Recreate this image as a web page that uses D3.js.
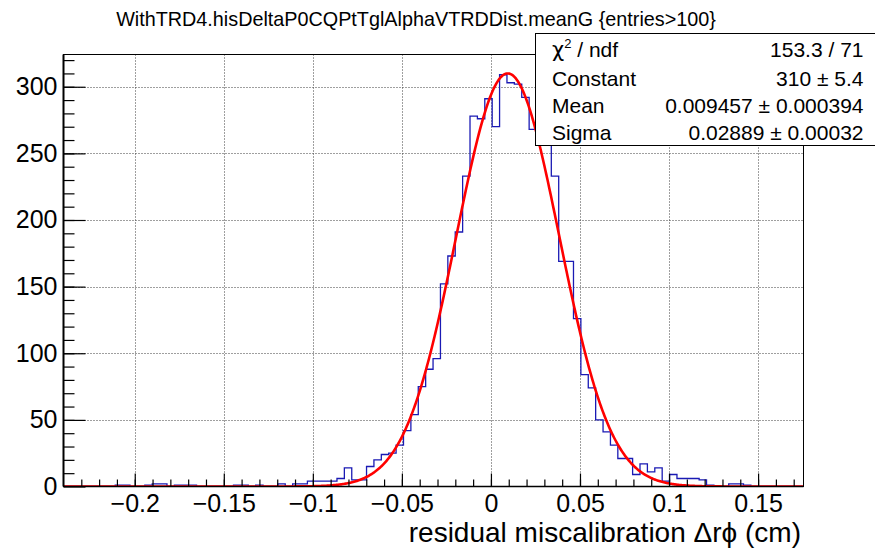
<!DOCTYPE html>
<html><head><meta charset="utf-8">
<script src="https://cdn.jsdelivr.net/npm/d3@7"></script>
<style>
html,body{margin:0;padding:0;background:#fff;}
svg{display:block;font-family:"Liberation Sans",Arial,Helvetica,sans-serif;}
</style>
</head><body><svg id="c" width="875" height="553"></svg>
<script>
// ---------------- data ----------------
const titleText = "WithTRD4.hisDeltaP0CQPtTglAlphaVTRDDist.meanG {entries>100}";
const xAxisTitle = "residual miscalibration \u0394r\u03d5 (cm)";
const binLow = -0.24;
const binWidth = 0.00415;
const binCounts = [
  0,0,0,0,0,0,0,1,1,0,
  0,1,2,2,0,1,1,1,0,0,
  0,0,0,1,1,0,1,0,0,2,
  0,2,2,4,4,4,4,6,14,5,
  5,15,20,24,25,31,42,54,75,88,
  96,152,173,191,233,278,276,291,270,309,
  303,302,292,268,264,259,233,169,169,126,
  84,74,50,41,31,21,21,9,17,11,
  14,4,9,6,6,6,5,1,0,0,
  2,2,1,0,0,0,0,0,0,0
];
const xMajorTicks = [-0.2,-0.15,-0.1,-0.05,0,0.05,0.1,0.15];
const xTickLabels = ["\u22120.2","\u22120.15","\u22120.1","\u22120.05","0","0.05","0.1","0.15"];
const yMajorTicks = [0,50,100,150,200,250,300];
const yTickLabels = ["0","50","100","150","200","250","300"];
const fitConstant = 310;
const fitMean = 0.009457;
const fitSigma = 0.02889;
const statsLabels = ["\u03c7", "Constant", "Mean", "Sigma"];
const statsValues = ["153.3 / 71", "310 \u00b1 5.4", "0.009457 \u00b1 0.000394", "0.02889 \u00b1 0.00032"];

// ---------------- layout ----------------
const svg = d3.select("#c");
const L = 63.5, R = 803.5, T = 54.5, B = 486.5;
const x = d3.scaleLinear().domain([-0.24, 0.1755]).range([L, R]);
const y = d3.scaleLinear().domain([0, 324.2]).range([B, T]);

svg.append("rect").attr("width",875).attr("height",553).attr("fill","#fff");

svg.append("defs").append("clipPath").attr("id","fr")
  .append("rect").attr("x",L).attr("y",T).attr("width",R-L).attr("height",B-T);

// grid
const grid = svg.append("g").attr("stroke","#000").attr("stroke-width",1)
  .attr("stroke-dasharray","1,2").attr("opacity",0.75);
xMajorTicks.forEach(v => {
  const px = Math.round(x(v)) + 0.5;
  grid.append("line").attr("x1",px).attr("x2",px).attr("y1",T).attr("y2",B);
});
yMajorTicks.filter(v => v > 0).forEach(v => {
  const py = Math.round(y(v)) + 0.5;
  grid.append("line").attr("x1",L).attr("x2",R).attr("y1",py).attr("y2",py);
});

// histogram
const pts = binCounts.map((c,i) => [binLow + i*binWidth, c]);
pts.push([binLow + binCounts.length*binWidth, binCounts[binCounts.length-1]]);
svg.append("path").attr("clip-path","url(#fr)")
  .attr("d", d3.line().x(d => x(d[0])).y(d => y(d[1])).curve(d3.curveStepAfter)(pts))
  .attr("fill","none").attr("stroke","#1a1ab4").attr("stroke-width",1.3);

// fit curve
const xs = d3.range(0, 801).map(i => -0.24 + i*(0.4155/800));
const gaus = v => fitConstant * Math.exp(-0.5 * Math.pow((v - fitMean)/fitSigma, 2));
svg.append("path").attr("clip-path","url(#fr)")
  .attr("d", d3.line().x(v => x(v)).y(v => y(gaus(v)))(xs))
  .attr("fill","none").attr("stroke","#ff0000").attr("stroke-width",2.6);

// axes
const fs = 25;
const xAx = svg.append("g").attr("transform",`translate(0,${B})`)
  .call(d3.axisBottom(x).tickValues(xMajorTicks).tickSize(-13).tickPadding(8)
        .tickFormat((d,i) => xTickLabels[i]));
const xMin = svg.append("g").attr("transform",`translate(0,${B})`)
  .call(d3.axisBottom(x).tickValues(d3.range(-23,18).map(k => k/100)).tickSize(-7).tickFormat(""));
const yAx = svg.append("g").attr("transform",`translate(${L},0)`)
  .call(d3.axisLeft(y).tickValues(yMajorTicks).tickSize(-22).tickPadding(6)
        .tickFormat((d,i) => yTickLabels[i]));
const yMin = svg.append("g").attr("transform",`translate(${L},0)`)
  .call(d3.axisLeft(y).tickValues(d3.range(1,33).map(k => k*10)).tickSize(-11).tickFormat(""));
[xAx,xMin,yAx,yMin].forEach(g => {
  g.select(".domain").remove();
  g.selectAll("line").attr("stroke","#000").attr("stroke-width",1.2);
  g.selectAll("text").attr("font-size",fs).attr("fill","#000")
    .attr("font-family",'"Liberation Sans",Arial,sans-serif');
});

// frame
svg.append("rect").attr("x",L).attr("y",T).attr("width",R-L).attr("height",B-T)
  .attr("fill","none").attr("stroke","#000").attr("stroke-width",1);
svg.append("line").attr("x1",L).attr("x2",L).attr("y1",T).attr("y2",B)
  .attr("stroke","#000").attr("stroke-width",2);
svg.append("line").attr("x1",L).attr("x2",R).attr("y1",B).attr("y2",B)
  .attr("stroke","#000").attr("stroke-width",1.5);

// axis title
svg.append("text").attr("x",801).attr("y",542).attr("text-anchor","end")
  .attr("font-size",28).attr("fill","#000").text(xAxisTitle);

// title
svg.append("text").attr("x",416).attr("y",26).attr("text-anchor","middle")
  .attr("font-size",19.8).attr("fill","#000").text(titleText);

// stats box
const sb = svg.append("g");
sb.append("rect").attr("x",535.5).attr("y",33.5).attr("width",345).attr("height",112)
  .attr("fill","#fff").attr("stroke","#000").attr("stroke-width",1);
const rowsY = [56.5, 85.5, 113, 139.5];
statsLabels.forEach((lab,i) => {
  const t = sb.append("text").attr("x",552).attr("y",rowsY[i]).attr("font-size",21).attr("fill","#000");
  if (i === 0) {
    t.append("tspan").attr("font-size",21).attr("font-family",'"DejaVu Sans",sans-serif').text(lab);
    t.append("tspan").attr("font-size",13).attr("dy",-9).text("2");
    t.append("tspan").attr("dy",9).text(" / ndf");
  } else t.text(lab);
  sb.append("text").attr("x",863.5).attr("y",rowsY[i]).attr("text-anchor","end")
    .attr("font-size",21).attr("fill","#000").text(statsValues[i]);
});
</script>
</body></html>
